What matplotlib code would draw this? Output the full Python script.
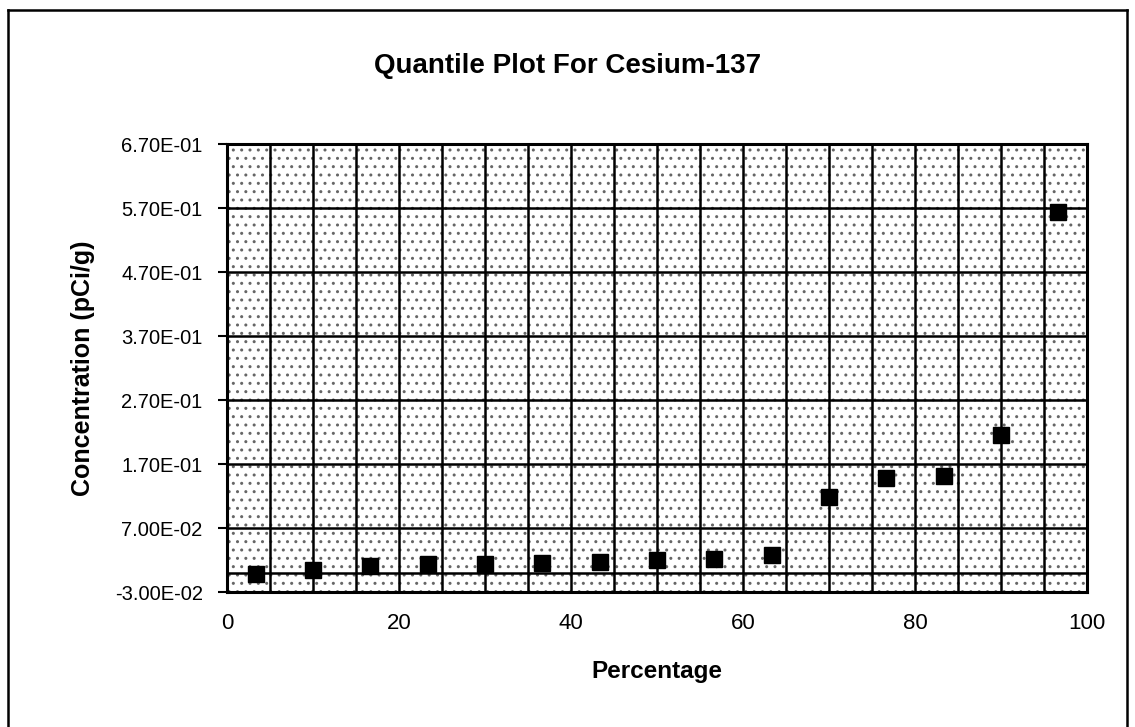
import matplotlib
matplotlib.use("Agg")
import matplotlib.pyplot as plt
from matplotlib.lines import Line2D
from matplotlib.patches import Rectangle
from matplotlib.ticker import FixedLocator, FuncFormatter, MultipleLocator

# ---- data ----
percentage = [3.33, 10.0, 16.67, 23.33, 30.0, 36.67, 43.33, 50.0,
              56.67, 63.33, 70.0, 76.67, 83.33, 90.0, 96.67]
concentration = [-0.0015, 0.004, 0.011, 0.013, 0.013, 0.015, 0.017, 0.020,
                 0.022, 0.028, 0.118, 0.148, 0.152, 0.215, 0.564]
y_ticks = [-0.03, 0.07, 0.17, 0.27, 0.37, 0.47, 0.57, 0.67]
x_ticks = [0, 20, 40, 60, 80, 100]
title = "Quantile Plot For Cesium-137"
x_label = "Percentage"
y_label = "Concentration (pCi/g)"

plt.rcParams['font.family'] = ['Liberation Sans', 'DejaVu Sans']

W, H = 1135, 727
fig = plt.figure(figsize=(W / 100, H / 100), dpi=100)
fig.patch.set_facecolor('white')

L, R, T, B = 227, 1087, 144, 592
ax = fig.add_axes([L / W, 1 - B / H, (R - L) / W, (B - T) / H])
ax.set_xlim(0, 100)
ax.set_ylim(-0.03, 0.67)

# speckled plot-area fill (scanned pattern)
ax.add_patch(Rectangle((0, 0), 1, 1, transform=ax.transAxes, facecolor='white',
                       edgecolor='0.4', linewidth=0, hatch='..', zorder=0.5))

# grid
ax.xaxis.set_minor_locator(MultipleLocator(5))
ax.yaxis.set_major_locator(FixedLocator(y_ticks))
ax.xaxis.set_major_locator(FixedLocator(x_ticks))
ax.grid(True, which='both', axis='x', color='black', linewidth=1.8, zorder=1)
ax.grid(True, which='major', axis='y', color='black', linewidth=1.8, zorder=1)
ax.axhline(0, color='black', linewidth=1.8, zorder=2)
ax.set_axisbelow(True)

for s in ax.spines.values():
    s.set_linewidth(2.2)
    s.set_color('black')

ax.plot(percentage, concentration, linestyle='none', marker='s',
        markersize=11.5, color='black', zorder=5, clip_on=False)

ax.yaxis.set_major_formatter(FuncFormatter(lambda v, p: f"{v:.2E}"))
ax.tick_params(axis='y', which='major', direction='out', length=6.5, width=1.5,
               labelsize=14.5, pad=11)
ax.tick_params(axis='x', which='both', length=0, labelsize=16, pad=15)

fig.text((L + R) / 2 / W, 1 - 678 / H, x_label, ha='center', va='baseline',
         fontsize=17.5, fontweight='bold')
fig.text(83 / W, 1 - (T + B) / 2 / H, y_label, ha='center', va='center',
         rotation=90, fontsize=18, fontweight='bold')
fig.text(568 / W, 1 - 73 / H, title, ha='center', va='baseline',
         fontsize=20, fontweight='bold')

# outer chart border
kw = dict(color='black', linewidth=1.8, transform=fig.transFigure)
fig.add_artist(Line2D([8 / W, 8 / W], [0, 1 - 10 / H], **kw))
fig.add_artist(Line2D([8 / W, 1127 / W], [1 - 10 / H, 1 - 10 / H], **kw))
fig.add_artist(Line2D([1127 / W, 1127 / W], [0, 1 - 10 / H], **kw))

fig.savefig("out.png", dpi=100)
